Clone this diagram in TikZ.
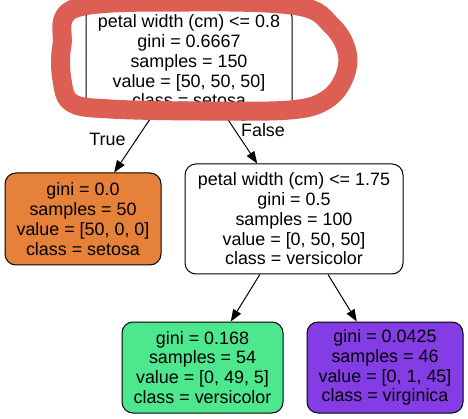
\documentclass[tikz,border=0pt]{standalone}
\usepackage{fontspec}
\setmainfont{Liberation Sans}
\usetikzlibrary{arrows.meta}
\definecolor{setosaC}{RGB}{229,129,57}
\definecolor{versiC}{RGB}{77,232,142}
\definecolor{virgC}{RGB}{132,61,229}
\definecolor{scribC}{RGB}{221,94,83}
\tikzset{
  tnode/.style={draw=black, line width=1pt, rounded corners=11pt, align=center,
    inner sep=0pt, font=\fontsize{17.9}{19.8}\selectfont, fill=white},
  edgeArr/.style={line width=1pt, -{Triangle[length=12pt,width=9pt]}},
  elabel/.style={font=\fontsize{17.9}{19.8}\selectfont},
  scribble/.style={draw=scribC, line width=19pt, line cap=round, line join=round}
}
\begin{document}
\begin{tikzpicture}[x=1pt,y=-1pt]
\useasboundingbox (0,0) rectangle (468,419);
\node[tnode, minimum width=206pt, minimum height=110pt] (root) at (189,61)
  {petal width (cm) <= 0.8\\gini = 0.6667\\samples = 150\\value = [50, 50, 50]\\class = setosa};
\node[tnode, fill=setosaC, minimum width=156pt, minimum height=92pt] (setosa) at (83,219)
  {gini = 0.0\\samples = 50\\value = [50, 0, 0]\\class = setosa};
\node[tnode, minimum width=218pt, minimum height=110pt] (split) at (294,219)
  {petal width (cm) <= 1.75\\gini = 0.5\\samples = 100\\value = [0, 50, 50]\\class = versicolor};
\node[tnode, fill=versiC, minimum width=161pt, minimum height=91pt] (versi) at (202.5,367.5)
  {gini = 0.168\\samples = 54\\value = [0, 49, 5]\\class = versicolor};
\node[tnode, fill=virgC, minimum width=156pt, minimum height=91pt] (virg) at (385,367.5)
  {gini = 0.0425\\samples = 46\\value = [0, 1, 45]\\class = virginica};
\draw[edgeArr] (root) -- (setosa);
\draw[edgeArr] (root) -- (split);
\draw[edgeArr] (split) -- (versi);
\draw[edgeArr] (split) -- (virg);
\node[elabel] (tlab) at (107.5,139) {True};
\node[elabel] (flab) at (263,130) {False};
\draw[scribble] plot[smooth cycle, tension=0.6] coordinates {
  (76,8) (190,2) (298,6) (332,26) (347,52) (344,78) (326,100) (290,110)
  (200,111) (110,109) (72,103) (62,80) (62,45)};
\end{tikzpicture}
\end{document}
